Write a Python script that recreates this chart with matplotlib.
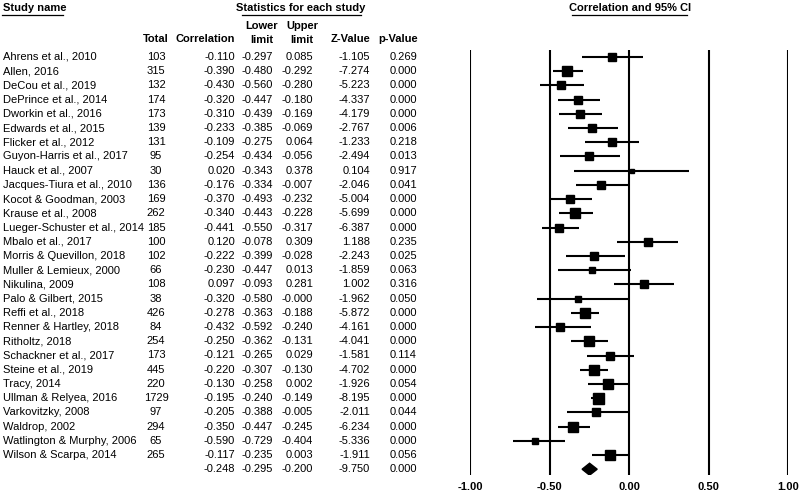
import numpy as np
import matplotlib
matplotlib.use("Agg")
import matplotlib.pyplot as plt
from matplotlib.transforms import blended_transform_factory
from matplotlib.lines import Line2D

plt.rcParams['font.family'] = ['Liberation Sans', 'DejaVu Sans']

# data
studies = ["Ahrens et al., 2010", "Allen, 2016", "DeCou et al., 2019", "DePrince et al., 2014",
           "Dworkin et al., 2016", "Edwards et al., 2015", "Flicker et al., 2012",
           "Guyon-Harris et al., 2017", "Hauck et al., 2007", "Jacques-Tiura et al., 2010",
           "Kocot & Goodman, 2003", "Krause et al., 2008", "Lueger-Schuster et al., 2014",
           "Mbalo et al., 2017", "Morris & Quevillon, 2018", "Muller & Lemieux, 2000",
           "Nikulina, 2009", "Palo & Gilbert, 2015", "Reffi et al., 2018", "Renner & Hartley, 2018",
           "Ritholtz, 2018", "Schackner et al., 2017", "Steine et al., 2019", "Tracy, 2014",
           "Ullman & Relyea, 2016", "Varkovitzky, 2008", "Waldrop, 2002",
           "Watlington & Murphy, 2006", "Wilson & Scarpa, 2014"]
total = [103, 315, 132, 174, 173, 139, 131, 95, 30, 136, 169, 262, 185, 100, 102, 66, 108, 38,
         426, 84, 254, 173, 445, 220, 1729, 97, 294, 65, 265]
corr = [-0.110, -0.390, -0.430, -0.320, -0.310, -0.233, -0.109, -0.254, 0.020, -0.176, -0.370,
        -0.340, -0.441, 0.120, -0.222, -0.230, 0.097, -0.320, -0.278, -0.432, -0.250, -0.121,
        -0.220, -0.130, -0.195, -0.205, -0.350, -0.590, -0.117]
lower = [-0.297, -0.480, -0.560, -0.447, -0.439, -0.385, -0.275, -0.434, -0.343, -0.334, -0.493,
         -0.443, -0.550, -0.078, -0.399, -0.447, -0.093, -0.580, -0.363, -0.592, -0.362, -0.265,
         -0.307, -0.258, -0.240, -0.388, -0.447, -0.729, -0.235]
upper = [0.085, -0.292, -0.280, -0.180, -0.169, -0.069, 0.064, -0.056, 0.378, -0.007, -0.232,
         -0.228, -0.317, 0.309, -0.028, 0.013, 0.281, -0.000, -0.188, -0.240, -0.131, 0.029,
         -0.130, 0.002, -0.149, -0.005, -0.245, -0.404, 0.003]
zval = [-1.105, -7.274, -5.223, -4.337, -4.179, -2.767, -1.233, -2.494, 0.104, -2.046, -5.004,
        -5.699, -6.387, 1.188, -2.243, -1.859, 1.002, -1.962, -5.872, -4.161, -4.041, -1.581,
        -4.702, -1.926, -8.195, -2.011, -6.234, -5.336, -1.911]
pval = [0.269, 0.000, 0.000, 0.000, 0.000, 0.006, 0.218, 0.013, 0.917, 0.041, 0.000, 0.000,
        0.000, 0.235, 0.025, 0.063, 0.316, 0.050, 0.000, 0.000, 0.000, 0.114, 0.000, 0.054,
        0.000, 0.044, 0.000, 0.000, 0.056]
summary = dict(corr=-0.248, lower=-0.295, upper=-0.200, z=-9.750, p=0.000)
ticks = [-1.0, -0.5, 0.0, 0.5, 1.0]

W, H = 800, 493
fig = plt.figure(figsize=(8, 4.93), dpi=100)

# forest axes: x from 470 to 788 px, y from 50 to 475 px
x0, x1 = 470, 788
y0, y1 = 50, 475
ax = fig.add_axes([x0 / W, 1 - y1 / H, (x1 - x0) / W, (y1 - y0) / H])
n = len(studies)
rowpx = (455 - 57) / (n - 1)
ax.set_xlim(-1, 1)
ax.set_ylim((y1 - 57) / rowpx, -(57 - y0) / rowpx)
for s in ax.spines.values():
    s.set_visible(False)
ax.set_yticks([])
ax.set_xticks([])
ax.patch.set_alpha(0)
for t in ticks:
    ax.axvline(t, color='black', lw=1.5, zorder=1)

# marker size ~ study weight
wts = 1.0 / (1.0 / (np.array(total) - 3) + 0.008)
side = 11 * np.sqrt(wts / wts.max())
for i in range(n):
    ax.plot([lower[i], upper[i]], [i, i], color='black', lw=1.5, zorder=2, solid_capstyle='butt')
    ax.plot(corr[i], i, marker='s', color='black', ms=side[i] * 0.72, zorder=3)
ys = n
ax.fill([summary['lower'], summary['corr'], summary['upper'], summary['corr']],
        [ys, ys - 0.42, ys, ys + 0.42], color='black', zorder=3)

# tick labels
for t in ticks:
    fig.text((x0 + (t + 1) / 2 * (x1 - x0)) / W, 1 - 487 / H, f"{t:.2f}",
             ha='center', va='center', fontsize=8, fontweight='bold')

# table
tr = blended_transform_factory(fig.transFigure, ax.transData)
fs = 8
for i in range(n):
    fig.text(3 / W, i, studies[i], transform=tr, ha='left', va='center', fontsize=fs)
    fig.text(156 / W, i, str(total[i]), transform=tr, ha='center', va='center', fontsize=fs)
    fig.text(235 / W, i, f"{corr[i]:.3f}", transform=tr, ha='right', va='center', fontsize=fs)
    fig.text(273 / W, i, f"{lower[i]:.3f}", transform=tr, ha='right', va='center', fontsize=fs)
    fig.text(313 / W, i, f"{upper[i]:.3f}", transform=tr, ha='right', va='center', fontsize=fs)
    fig.text(370 / W, i, f"{zval[i]:.3f}", transform=tr, ha='right', va='center', fontsize=fs)
    fig.text(417 / W, i, f"{pval[i]:.3f}", transform=tr, ha='right', va='center', fontsize=fs)
fig.text(235 / W, ys, f"{summary['corr']:.3f}", transform=tr, ha='right', va='center', fontsize=fs)
fig.text(273 / W, ys, f"{summary['lower']:.3f}", transform=tr, ha='right', va='center', fontsize=fs)
fig.text(313 / W, ys, f"{summary['upper']:.3f}", transform=tr, ha='right', va='center', fontsize=fs)
fig.text(370 / W, ys, f"{summary['z']:.3f}", transform=tr, ha='right', va='center', fontsize=fs)
fig.text(417 / W, ys, f"{summary['p']:.3f}", transform=tr, ha='right', va='center', fontsize=fs)

# headers
def hdr(x, y, s, ha='center'):
    fig.text(x / W, 1 - y / H, s, ha=ha, va='center', fontsize=fs, fontweight='bold',
             linespacing=1.4)

hdr(3, 8, "Study name", ha='left')
hdr(301, 8, "Statistics for each study")
hdr(630, 8, "Correlation and 95% CI")
hdr(156, 39, "Total")
hdr(235, 39, "Correlation", ha='right')
hdr(262, 33, "Lower\nlimit")
hdr(302, 33, "Upper\nlimit")
hdr(370, 39, "Z-Value", ha='right')
hdr(418, 39, "p-Value", ha='right')

for xa, xb in [(2, 63), (242, 361), (572, 687)]:
    fig.add_artist(Line2D([xa / W, xb / W], [1 - 15 / H, 1 - 15 / H], color='black', lw=0.9))

fig.savefig("out.png", dpi=100)
